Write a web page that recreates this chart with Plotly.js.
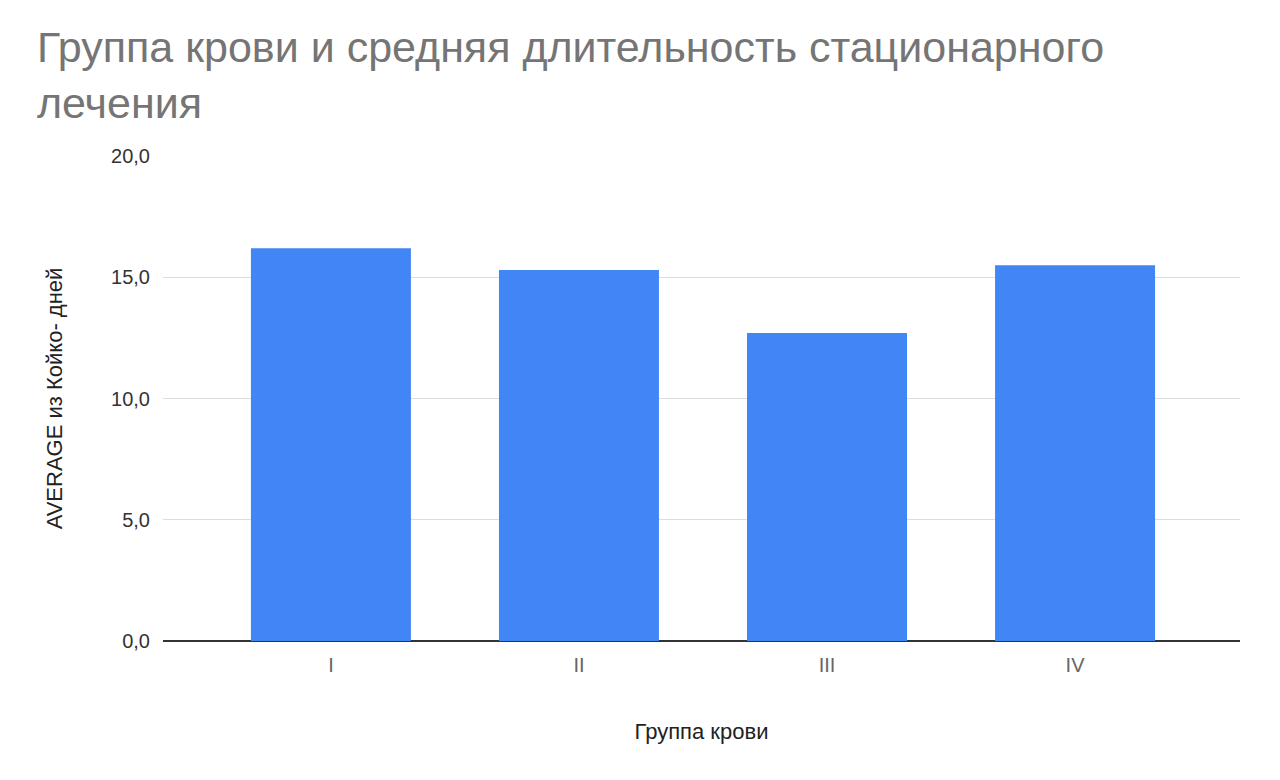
<!DOCTYPE html>
<html><head><meta charset="utf-8">
<script src="https://cdn.plot.ly/plotly-3.0.1.min.js"></script>
<style>body{margin:0;background:#fff}#c{width:1280px;height:780px}</style>
</head><body><div id="c"></div>
<script>
var categories = ["I", "II", "III", "IV"];
var values = [16.2, 15.3, 12.7, 15.5];
var yTicks = [0, 5, 10, 15, 20];
var yTickLabels = ["0,0", "5,0", "10,0", "15,0", "20,0"];

var trace = {
  type: "bar",
  x: categories,
  y: values,
  marker: {color: "#4285f4"},
  hoverinfo: "x+y"
};
var layout = {
  width: 1280, height: 780,
  paper_bgcolor: "#fff", plot_bgcolor: "#fff",
  font: {family: "Liberation Sans, Arial, sans-serif", color: "#444"},
  margin: {l: 163, r: 40, t: 156, b: 139},
  title: {
    text: "Группа крови и средняя длительность стационарного<br>лечения",
    font: {size: 43, color: "#757575"},
    x: 37 / 1280, xanchor: "left", xref: "container",
    y: 0.921, yanchor: "top", yref: "container"
  },
  bargap: 0.355,
  xaxis: {
    type: "category",
    range: [-0.677, 3.665],
    showgrid: false,
    showline: false,
    ticks: "",
    ticklabelstandoff: 10,
    tickfont: {size: 20, color: "#666"},
    title: {text: "Группа крови", font: {size: 22, color: "#222"}, standoff: 48}
  },
  yaxis: {
    range: [0, 20],
    tickvals: yTicks,
    ticktext: yTickLabels,
    showgrid: true,
    gridcolor: "#dcdcdc",
    gridwidth: 1,
    zeroline: true,
    zerolinecolor: "#333",
    zerolinewidth: 1.5,
    ticks: "",
    ticklabelstandoff: 12,
    tickfont: {size: 20, color: "#333"},
    title: {text: "AVERAGE из Койко- дней", font: {size: 22, color: "#222"}, standoff: 42}
  },
  showlegend: false
};
Plotly.newPlot("c", [trace], layout, {displayModeBar: false, staticPlot: true});
</script>
</body></html>
